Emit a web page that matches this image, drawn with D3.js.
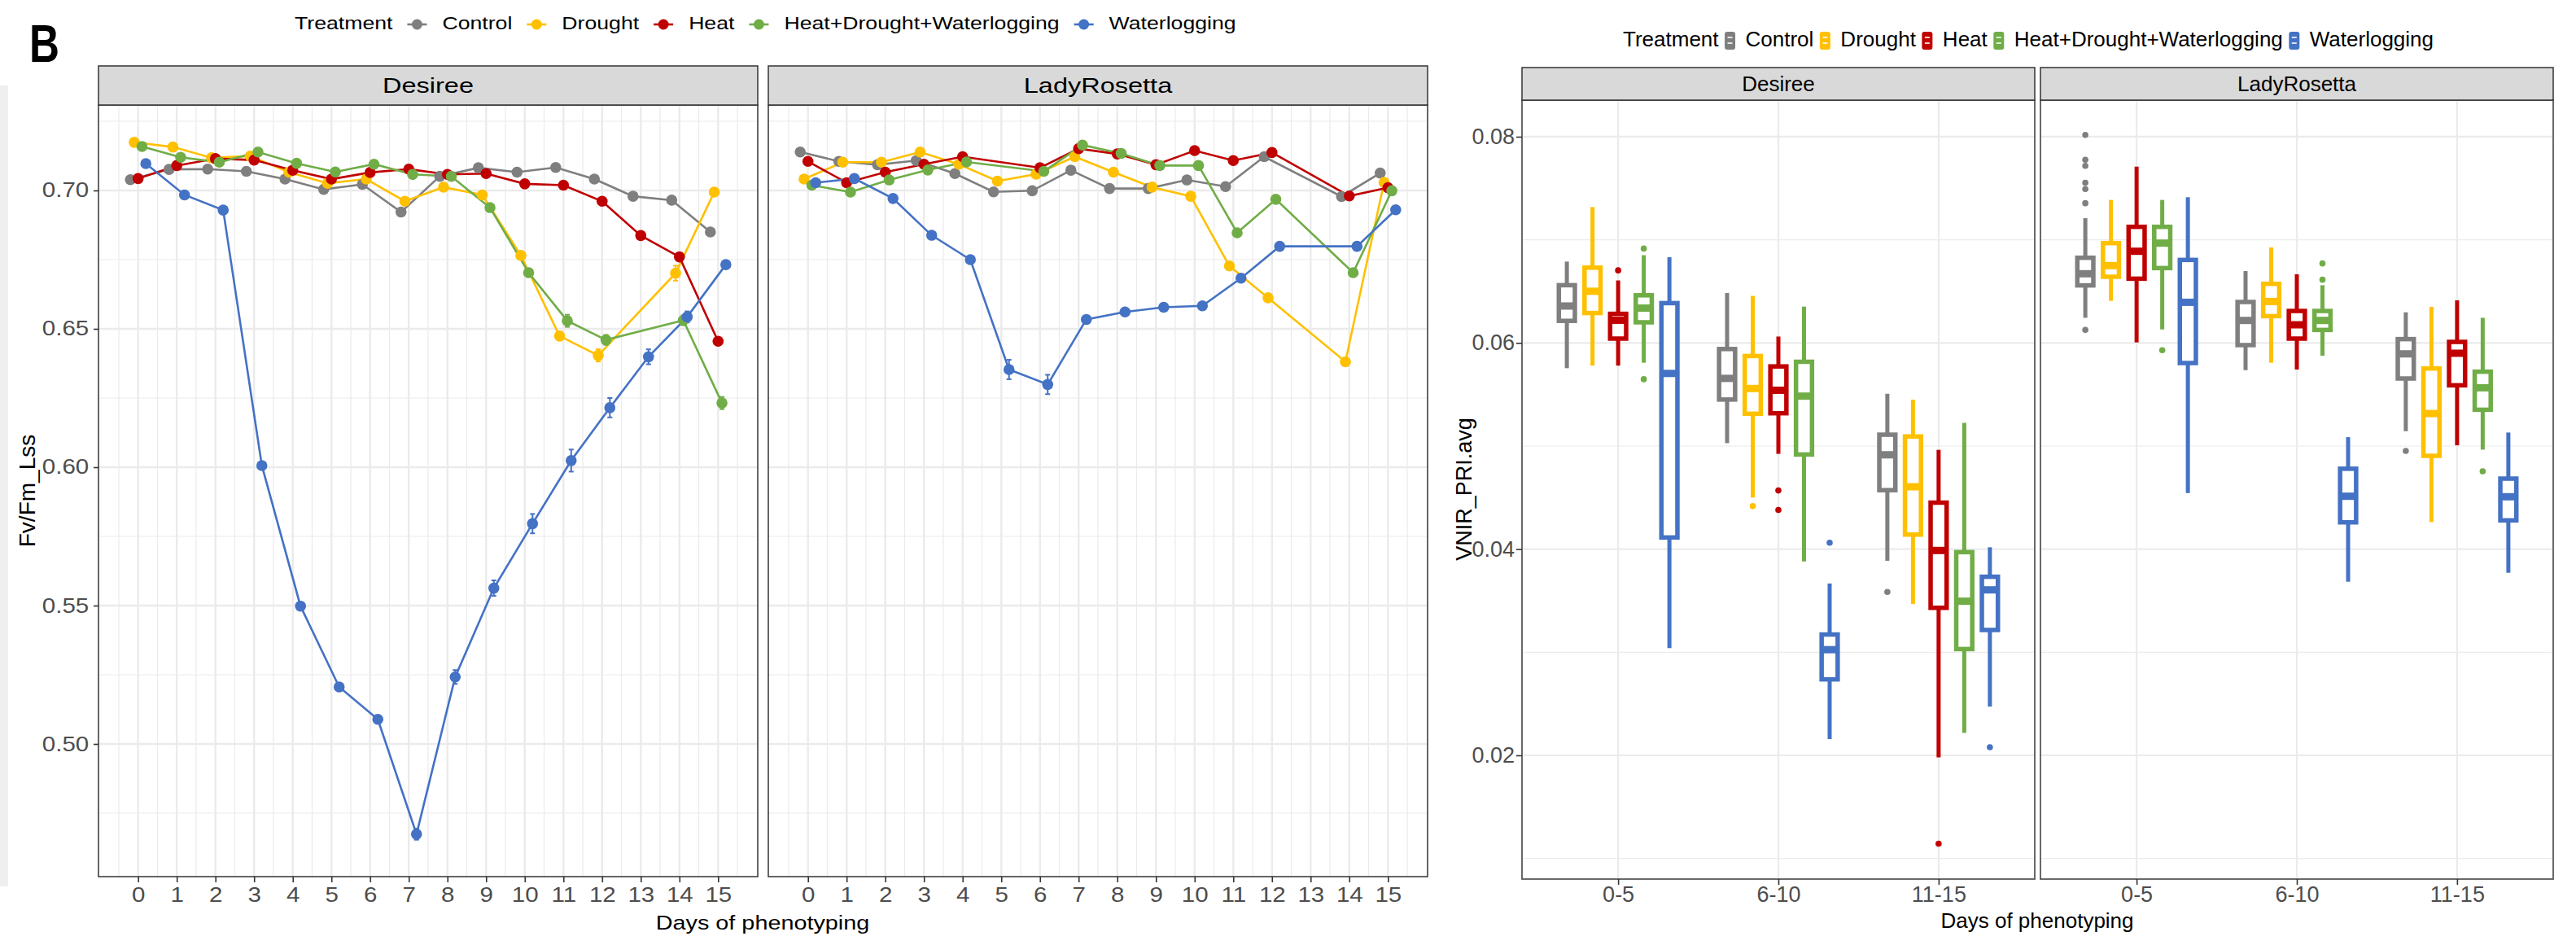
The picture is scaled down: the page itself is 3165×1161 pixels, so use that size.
<!DOCTYPE html>
<html>
<head>
<meta charset="utf-8">
<script src="https://cdn.jsdelivr.net/npm/d3@7"></script>
<style>
  body { margin: 0; background: #ffffff; }
  text { font-family: 'Liberation Sans', Arial, sans-serif; }
</style>
</head>
<body>
<svg id="figura"></svg>
<script>
var tratamentos = ['Control', 'Drought', 'Heat', 'Heat+Drought+Waterlogging', 'Waterlogging'];
var coresTratamento = ['#7f7f7f', '#ffc000', '#c00000', '#70ad47', '#4472c4'];
var cultivares = ['Desiree', 'LadyRosetta'];
var dias = [0, 1, 2, 3, 4, 5, 6, 7, 8, 9, 10, 11, 12, 13, 14, 15];
var ticksFvFm = [0.50, 0.55, 0.60, 0.65, 0.70];
var periodos = ['0-5', '6-10', '11-15'];
var ticksPRI = [0.02, 0.04, 0.06, 0.08];

// Fv/Fm_Lss, media por dia (null = dia sem medicao)
var desireeControl = [0.7039, 0.7076, 0.7077, 0.7069, 0.7041, 0.7004, 0.7022, 0.6922, 0.7051, 0.7082, 0.7066, 0.7083, 0.7041, 0.6979, 0.6965, 0.6850];
var desireeDrought = [0.7174, 0.7157, 0.7118, 0.7124, 0.7066, 0.7026, 0.7041, 0.6961, 0.7012, 0.6984, 0.6765, 0.6474, 0.6404, null, 0.6701, 0.6994];
var desireeHeat    = [0.7043, 0.7090, 0.7115, 0.7110, 0.7073, 0.7041, 0.7065, 0.7077, 0.7058, 0.7061, 0.7024, 0.7019, 0.6961, 0.6837, 0.6760, 0.6455];
var desireeHDW     = [0.7159, 0.7120, 0.7102, 0.7139, 0.7098, 0.7067, 0.7095, 0.7058, 0.7051, 0.6938, 0.6703, 0.6529, 0.6460, null, 0.6531, 0.6232];
var desireeWater   = [0.7097, 0.6984, 0.6929, 0.6006, 0.5498, 0.5206, 0.5089, 0.4674, 0.5242, 0.5563, 0.5796, 0.6024, 0.6215, 0.6399, 0.6543, 0.6732];

var ladyControl = [0.7139, 0.7105, 0.7093, 0.7108, 0.7061, 0.6995, 0.6999, 0.7073, 0.7007, 0.7007, 0.7038, 0.7014, 0.7122, null, 0.6978, 0.7063];
var ladyDrought = [0.7041, 0.7102, 0.7102, 0.7139, 0.7095, 0.7034, 0.7059, 0.7122, 0.7066, 0.7012, 0.6979, 0.6727, 0.6612, null, 0.6381, 0.7029];
var ladyHeat    = [0.7105, 0.7028, 0.7066, 0.7095, 0.7122, null, 0.7082, 0.7151, 0.7132, 0.7093, 0.7144, 0.7108, 0.7137, null, 0.6980, 0.7010];
var ladyHDW     = [0.7019, 0.6994, 0.7038, 0.7074, 0.7103, null, 0.7069, 0.7164, 0.7134, 0.7090, 0.7090, 0.6847, 0.6968, null, 0.6703, 0.6999];
var ladyWater   = [0.7028, 0.7043, 0.6971, 0.6838, 0.6750, 0.6353, 0.6299, 0.6534, 0.6561, 0.6578, 0.6583, 0.6683, 0.6798, null, 0.6798, 0.6930];

// erro padrao (mesma ordem de tratamentos)
var epDesiree = [
  [0.0008, 0.0008, 0.0008, 0.0008, 0.0008, 0.0008, 0.0008, 0.0008, 0.0008, 0.0008, 0.0008, 0.0008, 0.0008, 0.0008, 0.0008, 0.0010],
  [0.0008, 0.0008, 0.0008, 0.0008, 0.0008, 0.0008, 0.0008, 0.0008, 0.0008, 0.0008, 0.0012, 0.0015, 0.0022, null, 0.0027, 0.0012],
  [0.0008, 0.0008, 0.0008, 0.0008, 0.0008, 0.0008, 0.0008, 0.0008, 0.0008, 0.0008, 0.0008, 0.0008, 0.0008, 0.0010, 0.0010, 0.0012],
  [0.0008, 0.0008, 0.0008, 0.0008, 0.0008, 0.0008, 0.0008, 0.0008, 0.0008, 0.0010, 0.0012, 0.0022, 0.0018, null, 0.0018, 0.0022],
  [0.0008, 0.0008, 0.0008, 0.0010, 0.0010, 0.0010, 0.0012, 0.0020, 0.0025, 0.0028, 0.0035, 0.0040, 0.0035, 0.0027, 0.0020, 0.0010]
];
var epLady = [
  [0.0008, 0.0008, 0.0008, 0.0008, 0.0008, 0.0008, 0.0008, 0.0008, 0.0008, 0.0008, 0.0008, 0.0008, 0.0008, null, 0.0008, 0.0008],
  [0.0008, 0.0008, 0.0008, 0.0008, 0.0008, 0.0008, 0.0008, 0.0008, 0.0008, 0.0008, 0.0008, 0.0010, 0.0010, null, 0.0010, 0.0008],
  [0.0008, 0.0008, 0.0008, 0.0008, 0.0008, null, 0.0008, 0.0008, 0.0008, 0.0008, 0.0008, 0.0008, 0.0008, null, 0.0008, 0.0008],
  [0.0008, 0.0008, 0.0008, 0.0008, 0.0008, null, 0.0008, 0.0008, 0.0008, 0.0008, 0.0008, 0.0010, 0.0010, null, 0.0010, 0.0008],
  [0.0008, 0.0008, 0.0008, 0.0008, 0.0008, 0.0035, 0.0035, 0.0010, 0.0008, 0.0008, 0.0008, 0.0008, 0.0008, null, 0.0008, 0.0008]
];

// VNIR_PRI.avg: [min, q1, mediana, q3, max] por periodo
var caixaDesireeControl = [[0.05755, 0.06214, 0.06358, 0.06560, 0.06789], [0.05028, 0.05451, 0.05656, 0.05941, 0.06484], [0.03887, 0.04572, 0.04915, 0.05110, 0.05507]];
var caixaDesireeDrought = [[0.05780, 0.06290, 0.06501, 0.06730, 0.07318], [0.04500, 0.05313, 0.05558, 0.05873, 0.06456], [0.03469, 0.04141, 0.04605, 0.05093, 0.05450]];
var caixaDesireeHeat    = [[0.05780, 0.06042, 0.06220, 0.06282, 0.06606], [0.04924, 0.05318, 0.05541, 0.05772, 0.06062], [0.01981, 0.03431, 0.03987, 0.04451, 0.04963]];
var caixaDesireeHDW     = [[0.05808, 0.06200, 0.06338, 0.06462, 0.06851], [0.03881, 0.04918, 0.05484, 0.05817, 0.06352], [0.02218, 0.03031, 0.03495, 0.03971, 0.05225]];
var caixaDesireeWater   = [[0.03040, 0.04113, 0.05704, 0.06386, 0.06831], [0.02158, 0.02737, 0.03025, 0.03172, 0.03667], [0.02473, 0.03216, 0.03605, 0.03732, 0.04018]];

var caixaLadyControl = [[0.06244, 0.06558, 0.06671, 0.06826, 0.07210], [0.05736, 0.05979, 0.06218, 0.06397, 0.06697], [0.05144, 0.05655, 0.05894, 0.06037, 0.06297]];
var caixaLadyDrought = [[0.06408, 0.06642, 0.06750, 0.06968, 0.07387], [0.05808, 0.06260, 0.06402, 0.06573, 0.06926], [0.04263, 0.04905, 0.05315, 0.05752, 0.06350]];
var caixaLadyHeat    = [[0.06005, 0.06623, 0.06889, 0.07126, 0.07710], [0.05742, 0.06042, 0.06176, 0.06310, 0.06666], [0.05007, 0.05589, 0.05900, 0.06010, 0.06413]];
var caixaLadyHDW     = [[0.06131, 0.06726, 0.06968, 0.07126, 0.07387], [0.05876, 0.06126, 0.06218, 0.06310, 0.06560], [0.04965, 0.05352, 0.05565, 0.05721, 0.06244]];
var caixaLadyWater   = [[0.04544, 0.05805, 0.06394, 0.06805, 0.07413], [0.03684, 0.04260, 0.04513, 0.04780, 0.05086], [0.03771, 0.04279, 0.04508, 0.04684, 0.05131]];

// pontos extremos: [periodo, tratamento, valor]
var extremosDesiree = [
  ['0-5', 'Heat', 0.06704], ['0-5', 'Heat+Drought+Waterlogging', 0.06915], ['0-5', 'Heat+Drought+Waterlogging', 0.05648],
  ['6-10', 'Drought', 0.04417], ['6-10', 'Heat', 0.04569], ['6-10', 'Heat', 0.04380], ['6-10', 'Waterlogging', 0.04062],
  ['11-15', 'Control', 0.03585], ['11-15', 'Heat', 0.01144], ['11-15', 'Waterlogging', 0.02079]
];
var extremosLady = [
  ['0-5', 'Control', 0.08018], ['0-5', 'Control', 0.07776], ['0-5', 'Control', 0.07718], ['0-5', 'Control', 0.07553],
  ['0-5', 'Control', 0.07492], ['0-5', 'Control', 0.07355], ['0-5', 'Control', 0.06126], ['0-5', 'Heat+Drought+Waterlogging', 0.05929],
  ['6-10', 'Heat+Drought+Waterlogging', 0.06771], ['6-10', 'Heat+Drought+Waterlogging', 0.06613],
  ['11-15', 'Control', 0.04952], ['11-15', 'Heat+Drought+Waterlogging', 0.04755]
];

var svg = d3.select('#figura')
            .attr('width', 3165)
            .attr('height', 1161);

svg.append('rect')
   .attr('x', 0).attr('y', 0)
   .attr('width', 3165).attr('height', 1161)
   .attr('fill', '#ffffff');

svg.append('rect')
   .attr('x', 0).attr('y', 105)
   .attr('width', 10).attr('height', 984)
   .attr('fill', '#efefef');

function texto(pai, x, y, conteudo, tamanho, ancora, escalaX) {
  return pai.append('text')
            .attr('transform', 'translate(' + x + ',' + y + ') scale(' + escalaX + ',1)')
            .attr('text-anchor', ancora)
            .style('font-size', tamanho + 'px')
            .attr('fill', '#000000')
            .text(conteudo);
}

function estilizaEixo(g, tamanho, escalaX) {
  g.attr('font-family', null);
  g.select('.domain').remove();
  g.selectAll('.tick line')
   .attr('stroke', '#333333')
   .attr('stroke-width', 1.6);
  g.selectAll('.tick text')
   .attr('fill', '#4d4d4d')
   .style('font-size', tamanho + 'px')
   .attr('transform', 'scale(' + escalaX + ',1)');
}

function meios(valores) {
  var m = [];
  for (var i = 0; i < valores.length - 1; i++) m.push((valores[i] + valores[i + 1]) / 2);
  return m;
}

// ---------------- painel B esquerdo: Fv/Fm ----------------
texto(svg, 36, 76, 'B', 64, 'start', 0.8).style('font-weight', 'bold');

var yFv = d3.scaleLinear()
            .domain([0.45206, 0.73088])
            .range([1077, 129]);

var paineisFv = [
  {cultivar: cultivares[0], esquerda: 121, direita: 931,
   medias: [desireeControl, desireeDrought, desireeHeat, desireeHDW, desireeWater], erros: epDesiree},
  {cultivar: cultivares[1], esquerda: 944, direita: 1754,
   medias: [ladyControl, ladyDrought, ladyHeat, ladyHDW, ladyWater], erros: epLady}
];

var ticksFvMenores = [ticksFvFm[0] - 0.025].concat(meios(ticksFvFm), [ticksFvFm[ticksFvFm.length - 1] + 0.025]);
var diasMenores = [dias[0] - 0.5].concat(meios(dias), [dias[dias.length - 1] + 0.5]);

paineisFv.forEach(function(p, n) {
  var x = d3.scaleLinear()
            .domain([-1.025, 16.025])
            .range([p.esquerda, p.direita]);
  var g = svg.append('g');
  var topo = yFv.range()[1], base = yFv.range()[0];

  g.selectAll('.gradeMenorY').data(ticksFvMenores).enter()
   .append('line')
   .attr('x1', p.esquerda).attr('x2', p.direita)
   .attr('y1', d => yFv(d)).attr('y2', d => yFv(d))
   .attr('stroke', '#ebebeb').attr('stroke-width', 1.2);
  g.selectAll('.gradeMenorX').data(diasMenores).enter()
   .append('line')
   .attr('x1', d => x(d)).attr('x2', d => x(d))
   .attr('y1', topo).attr('y2', base)
   .attr('stroke', '#ebebeb').attr('stroke-width', 1.2);
  g.selectAll('.gradeY').data(ticksFvFm).enter()
   .append('line')
   .attr('x1', p.esquerda).attr('x2', p.direita)
   .attr('y1', d => yFv(d)).attr('y2', d => yFv(d))
   .attr('stroke', '#ebebeb').attr('stroke-width', 2.4);
  g.selectAll('.gradeX').data(dias).enter()
   .append('line')
   .attr('x1', d => x(d)).attr('x2', d => x(d))
   .attr('y1', topo).attr('y2', base)
   .attr('stroke', '#ebebeb').attr('stroke-width', 2.4);

  var series = tratamentos.map(function(t, i) {
    return {
      tratamento: t,
      cor: coresTratamento[i],
      pontos: dias.map(function(d, j) {
        return {dia: d + (i - 2) * 0.1, valor: p.medias[i][j], ep: p.erros[i][j]};
      }).filter(d => d.valor !== null)
    };
  });

  var linha = d3.line()
                .x(d => x(d.dia))
                .y(d => yFv(d.valor));

  g.selectAll('.linha').data(series).enter()
   .append('path')
   .attr('d', d => linha(d.pontos))
   .attr('fill', 'none')
   .attr('stroke', d => d.cor)
   .attr('stroke-width', 2.6);

  series.forEach(function(s) {
    var barras = g.append('g').attr('stroke', s.cor).attr('stroke-width', 2);
    barras.selectAll('.barra').data(s.pontos).enter()
          .append('line')
          .attr('x1', d => x(d.dia)).attr('x2', d => x(d.dia))
          .attr('y1', d => yFv(d.valor - d.ep)).attr('y2', d => yFv(d.valor + d.ep));
    barras.selectAll('.capaSup').data(s.pontos).enter()
          .append('line')
          .attr('x1', d => x(d.dia) - 3).attr('x2', d => x(d.dia) + 3)
          .attr('y1', d => yFv(d.valor + d.ep)).attr('y2', d => yFv(d.valor + d.ep));
    barras.selectAll('.capaInf').data(s.pontos).enter()
          .append('line')
          .attr('x1', d => x(d.dia) - 3).attr('x2', d => x(d.dia) + 3)
          .attr('y1', d => yFv(d.valor - d.ep)).attr('y2', d => yFv(d.valor - d.ep));
  });

  series.forEach(function(s) {
    g.selectAll(null).data(s.pontos).enter()
     .append('circle')
     .attr('cx', d => x(d.dia))
     .attr('cy', d => yFv(d.valor))
     .attr('r', 6.8)
     .attr('fill', s.cor);
  });

  g.append('rect')
   .attr('x', p.esquerda).attr('y', topo)
   .attr('width', p.direita - p.esquerda).attr('height', base - topo)
   .attr('fill', 'none').attr('stroke', '#333333').attr('stroke-width', 1.5);

  g.append('rect')
   .attr('x', p.esquerda).attr('y', 81)
   .attr('width', p.direita - p.esquerda).attr('height', topo - 81)
   .attr('fill', '#d9d9d9').attr('stroke', '#333333').attr('stroke-width', 1.5);
  texto(g, (p.esquerda + p.direita) / 2, 114, p.cultivar, 26, 'middle', 1.25);

  var eixoX = d3.axisBottom(x).tickValues(dias).tickSize(7).tickPadding(6);
  var gx = svg.append('g')
              .attr('transform', 'translate(0,' + base + ')')
              .call(eixoX);
  estilizaEixo(gx, 25, 1.18);

  if (n === 0) {
    var eixoY = d3.axisLeft(yFv).tickValues(ticksFvFm).tickFormat(d3.format('.2f')).tickSize(6).tickPadding(4);
    var gy = svg.append('g')
                .attr('transform', 'translate(' + p.esquerda + ',0)')
                .call(eixoY);
    estilizaEixo(gy, 25, 1.18);
  }
});

svg.append('text')
   .attr('transform', 'translate(43,603) rotate(-90)')
   .attr('text-anchor', 'middle')
   .style('font-size', '28px')
   .text('Fv/Fm_Lss');
texto(svg, 937, 1142, 'Days of phenotyping', 24, 'middle', 1.2);

// legenda esquerda
(function() {
  var leg = svg.append('g');
  var escala = 1.24;
  var t = texto(leg, 362, 36, 'Treatment', 21.5, 'start', escala);
  var pos = 362 + t.node().getComputedTextLength() * escala;
  tratamentos.forEach(function(tr, i) {
    var cx = pos + 30;
    leg.append('line')
       .attr('x1', cx - 12).attr('x2', cx + 12)
       .attr('y1', 30).attr('y2', 30)
       .attr('stroke', coresTratamento[i]).attr('stroke-width', 2.6);
    leg.append('circle')
       .attr('cx', cx).attr('cy', 30).attr('r', 6.5)
       .attr('fill', coresTratamento[i]);
    var tt = texto(leg, cx + 31, 36, tr, 21.5, 'start', escala);
    pos = cx + 31 + tt.node().getComputedTextLength() * escala;
  });
})();

// ---------------- painel direito: VNIR_PRI ----------------
var yPri = d3.scaleLinear()
             .domain([0.0080, 0.08355])
             .range([1080, 123]);

var paineisPri = [
  {cultivar: cultivares[0], esquerda: 1870, direita: 2500,
   caixas: [caixaDesireeControl, caixaDesireeDrought, caixaDesireeHeat, caixaDesireeHDW, caixaDesireeWater],
   extremos: extremosDesiree},
  {cultivar: cultivares[1], esquerda: 2507, direita: 3137,
   caixas: [caixaLadyControl, caixaLadyDrought, caixaLadyHeat, caixaLadyHDW, caixaLadyWater],
   extremos: extremosLady}
];

var ticksPriMenores = [ticksPRI[0] - 0.01].concat(meios(ticksPRI));

paineisPri.forEach(function(p, n) {
  var x = d3.scalePoint()
            .domain(periodos)
            .range([p.esquerda, p.direita])
            .padding(0.6);
  var passo = x.step();
  var g = svg.append('g');
  var topo = yPri.range()[1], base = yPri.range()[0];

  g.selectAll('.gradeMenor').data(ticksPriMenores).enter()
   .append('line')
   .attr('x1', p.esquerda).attr('x2', p.direita)
   .attr('y1', d => yPri(d)).attr('y2', d => yPri(d))
   .attr('stroke', '#ebebeb').attr('stroke-width', 1.2);
  g.selectAll('.gradeY').data(ticksPRI).enter()
   .append('line')
   .attr('x1', p.esquerda).attr('x2', p.direita)
   .attr('y1', d => yPri(d)).attr('y2', d => yPri(d))
   .attr('stroke', '#ebebeb').attr('stroke-width', 2.2);
  g.selectAll('.gradeX').data(periodos).enter()
   .append('line')
   .attr('x1', d => x(d)).attr('x2', d => x(d))
   .attr('y1', topo).attr('y2', base)
   .attr('stroke', '#ebebeb').attr('stroke-width', 2.2);

  var larg = 0.1 * passo;
  tratamentos.forEach(function(t, i) {
    var cor = coresTratamento[i];
    var dados = periodos.map(function(per, k) {
      var s = p.caixas[i][k];
      return {cx: x(per) + (i - 2) * 0.16 * passo, min: s[0], q1: s[1], med: s[2], q3: s[3], max: s[4]};
    });
    g.selectAll(null).data(dados).enter()
     .append('line')
     .attr('x1', d => d.cx).attr('x2', d => d.cx)
     .attr('y1', d => yPri(d.max)).attr('y2', d => yPri(d.q3))
     .attr('stroke', cor).attr('stroke-width', 5);
    g.selectAll(null).data(dados).enter()
     .append('line')
     .attr('x1', d => d.cx).attr('x2', d => d.cx)
     .attr('y1', d => yPri(d.q1)).attr('y2', d => yPri(d.min))
     .attr('stroke', cor).attr('stroke-width', 5);
    g.selectAll(null).data(dados).enter()
     .append('rect')
     .attr('x', d => d.cx - larg / 2).attr('width', larg)
     .attr('y', d => yPri(d.q3)).attr('height', d => yPri(d.q1) - yPri(d.q3))
     .attr('fill', '#ffffff').attr('stroke', cor).attr('stroke-width', 5.5);
    g.selectAll(null).data(dados).enter()
     .append('line')
     .attr('x1', d => d.cx - larg / 2).attr('x2', d => d.cx + larg / 2)
     .attr('y1', d => yPri(d.med)).attr('y2', d => yPri(d.med))
     .attr('stroke', cor).attr('stroke-width', 9);
  });

  g.selectAll('.extremo').data(p.extremos).enter()
   .append('circle')
   .attr('cx', d => x(d[0]) + (tratamentos.indexOf(d[1]) - 2) * 0.16 * passo)
   .attr('cy', d => yPri(d[2]))
   .attr('r', 3.8)
   .attr('fill', d => coresTratamento[tratamentos.indexOf(d[1])]);

  g.append('rect')
   .attr('x', p.esquerda).attr('y', topo)
   .attr('width', p.direita - p.esquerda).attr('height', base - topo)
   .attr('fill', 'none').attr('stroke', '#595959').attr('stroke-width', 1.8);

  g.append('rect')
   .attr('x', p.esquerda).attr('y', 83)
   .attr('width', p.direita - p.esquerda).attr('height', topo - 83)
   .attr('fill', '#d9d9d9').attr('stroke', '#333333').attr('stroke-width', 1.5);
  texto(g, (p.esquerda + p.direita) / 2, 112, p.cultivar, 26, 'middle', 1);

  var eixoX = d3.axisBottom(x).tickSize(7).tickPadding(2);
  var gx = svg.append('g')
              .attr('transform', 'translate(0,' + base + ')')
              .call(eixoX);
  estilizaEixo(gx, 27, 1);

  if (n === 0) {
    var eixoY = d3.axisLeft(yPri).tickValues(ticksPRI).tickFormat(d3.format('.2f')).tickSize(7).tickPadding(2);
    var gy = svg.append('g')
                .attr('transform', 'translate(' + p.esquerda + ',0)')
                .call(eixoY);
    estilizaEixo(gy, 27, 1);
  }
});

svg.append('text')
   .attr('transform', 'translate(1808,601) rotate(-90)')
   .attr('text-anchor', 'middle')
   .style('font-size', '27px')
   .text('VNIR_PRI.avg');
texto(svg, 2503, 1140, 'Days of phenotyping', 26, 'middle', 1);

// legenda direita: mini caixa preenchida com tracos brancos
(function() {
  var leg = svg.append('g');
  var t = texto(leg, 1994, 57, 'Treatment', 26, 'start', 1);
  var pos = 1994 + t.node().getComputedTextLength();
  tratamentos.forEach(function(tr, i) {
    var cx = pos + 14;
    leg.append('rect')
       .attr('x', cx - 6.5).attr('y', 39)
       .attr('width', 13).attr('height', 22)
       .attr('rx', 3)
       .attr('fill', coresTratamento[i]);
    [46, 53].forEach(function(yy) {
      leg.append('line')
         .attr('x1', cx - 3).attr('x2', cx + 3)
         .attr('y1', yy).attr('y2', yy)
         .attr('stroke', '#ffffff').attr('stroke-width', 1.6);
    });
    var tt = texto(leg, cx + 19, 57, tr, 26, 'start', 1);
    pos = cx + 19 + tt.node().getComputedTextLength();
  });
})();
</script>
</body>
</html>
